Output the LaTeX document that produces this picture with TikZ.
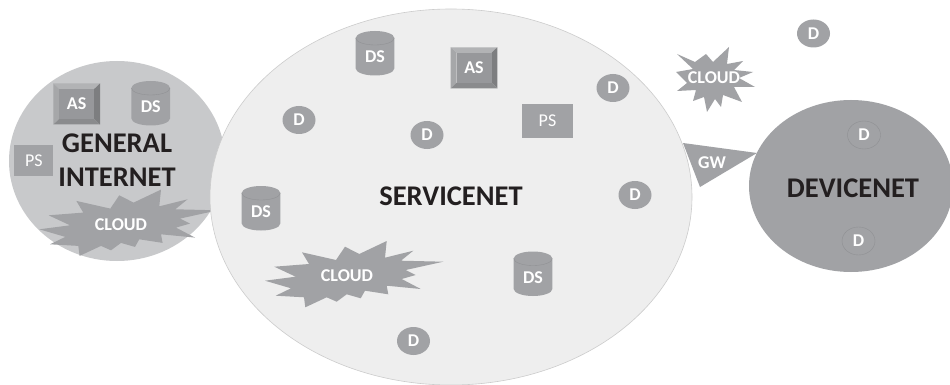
\documentclass[tikz,border=0pt]{standalone}
\usepackage{fontspec}
\setmainfont{Carlito}
\usetikzlibrary{shapes.geometric}
\definecolor{nodegrey}{HTML}{A1A2A5}
\definecolor{ginet}{HTML}{C8C9CB}
\definecolor{snet}{HTML}{EEEEEE}
\definecolor{sedge}{HTML}{CCCCCC}
\definecolor{ink}{HTML}{231F20}
\definecolor{bevlight}{HTML}{B2B3B5}
\definecolor{bevlighter}{HTML}{A6A7A9}
\definecolor{bevdark}{HTML}{7D7E80}
\definecolor{bevdarker}{HTML}{8A8B8D}
\definecolor{asface}{HTML}{97989B}
\definecolor{devedge}{HTML}{8F9093}
\tikzset{
  x=1pt,y=-1pt,
  netlabel/.style={font=\bfseries\fontsize{28.5}{30}\selectfont,text=ink,align=center,inner sep=0pt},
  lab/.style={font=\bfseries\fontsize{18}{19}\selectfont,text=white,inner sep=0pt},
  plab/.style={font=\fontsize{18}{19}\selectfont,text=white,inner sep=0pt},
  dev/.style={ellipse,fill=nodegrey,minimum width=33pt,minimum height=28pt,inner sep=0pt,lab},
  devout/.style={dev,draw=devedge,line width=.4pt},
  psbox/.style={rectangle,fill=nodegrey,inner sep=0pt,plab},
  burst/.style={fill=nodegrey,draw=none},
}
\newcommand{\dscyl}[3]{% name, cx, cy
  \begin{scope}[shift={(#2,#3)}]
    \fill[nodegrey] (-19.3,-15) -- (-19.3,15.5) arc[start angle=180,end angle=0,x radius=19.3,y radius=7] -- (19.3,-15) arc[start angle=0,end angle=-180,x radius=19.3,y radius=7] -- cycle;
    \draw[devedge,line width=.35pt] (-19.3,-15) arc[start angle=180,end angle=0,x radius=19.3,y radius=7];
    \node[lab] (#1) at (0,4) {DS};
  \end{scope}}
\newcommand{\asbox}[3]{% name, cx, cy
  \begin{scope}[shift={(#2,#3)}]
    \fill[bevlight] (-23.3,-20.5) -- (23.3,-20.5) -- (17.5,-15) -- (-17.5,-15) -- cycle;
    \fill[bevlighter] (-23.3,-20.5) -- (-17.5,-15) -- (-17.5,15) -- (-23.3,20.5) -- cycle;
    \fill[bevdark] (23.3,-20.5) -- (17.5,-15) -- (17.5,15) -- (23.3,20.5) -- cycle;
    \fill[bevdarker] (-23.3,20.5) -- (23.3,20.5) -- (17.5,15) -- (-17.5,15) -- cycle;
    \node[lab,fill=asface,minimum width=35pt,minimum height=30pt] (#1) at (0,0) {AS};
  \end{scope}}
\newcommand{\bigburst}[2]{% dx, dy
  \fill[burst,shift={(#1,#2)}] (265,280.7)--(295.7,276.7)--(274.3,266.7)--(309,264)--(302,252.3)--(336,260)--(345,246.7)--(359.3,254)--(386.7,241)--(385,257.7)--(413.3,250.7)--(401,260.7)--(443.3,261.7)--(405.7,270)--(415.7,275)--(401.7,279)--(420.7,289)--(386.7,285.7)--(388.3,294.3)--(365,290.7)--(360.7,298.3)--(346.7,294.3)--(336.7,301.7)--(326.7,297.3)--(305.3,307.3)--(304,297.3)--(275.7,295.7)--(291,288.3)--cycle;}
\begin{document}
\begin{tikzpicture}
\useasboundingbox (0,0) rectangle (950,385);
\fill[white] (0,0) rectangle (950,385);
% networks
\path[fill=ginet] (117,161) ellipse[x radius=108,y radius=100];
\bigburst{-225.7}{-51.4}
\path[fill=snet,draw=sedge,line width=.6pt] (451,197) ellipse[x radius=241,y radius=188];
\path[fill=nodegrey] (851,186) ellipse[x radius=102,y radius=86];
\fill[nodegrey] (683,143) -- (757,153) -- (700,187) -- cycle;
% clouds
\bigburst{0}{0}
\node[lab] (c1) at (121,224.5) {CLOUD};
\node[lab] (c2) at (347,275.5) {CLOUD};
\fill[burst] (677,54)--(695,62)--(706,54)--(713,62)--(729,47)--(727,64)--(743,61)--(734,70)--(753,72)--(739,78)--(755,87)--(734,87)--(742,102)--(723,95)--(721,107)--(715,99)--(707,112)--(704,97)--(693,101)--(696,90)--(677,91)--(687,83)--(676,72)--(693,69)--cycle;
\node[lab] (c3) at (714,77.5) {CLOUD};
\node[netlabel] (gi) at (117,160.5) {GENERAL\\[4pt]INTERNET};
\node[netlabel] (sn) at (451,196) {SERVICENET};
\node[netlabel] (dn) at (853,188) {DEVICENET};
\node[lab] (gw) at (712,162.5) {GW};
% General internet contents
\asbox{as1}{76.7}{104}
\dscyl{ds1}{150.7}{103}
\node[psbox,minimum width=39pt,minimum height=31pt] (ps1) at (33.8,160.5) {PS};
% Servicenet contents
\dscyl{ds2}{375}{53}
\dscyl{ds3}{261}{208}
\dscyl{ds4}{533}{273.5}
\asbox{as2}{474}{67.8}
\node[psbox,minimum width=50.5pt,minimum height=33.5pt] (ps2) at (547.5,121) {PS};
\node[dev] (d1) at (299,120) {D};
\node[dev] (d2) at (427,135) {D};
\node[dev] (d3) at (613,88) {D};
\node[dev] (d4) at (635,195) {D};
\node[dev] (d5) at (413.5,341) {D};
\node[dev] (d6) at (813.5,33.5) {D};
\node[devout] (d7) at (864,135) {D};
\node[devout] (d8) at (858.5,241) {D};
\end{tikzpicture}
\end{document}
